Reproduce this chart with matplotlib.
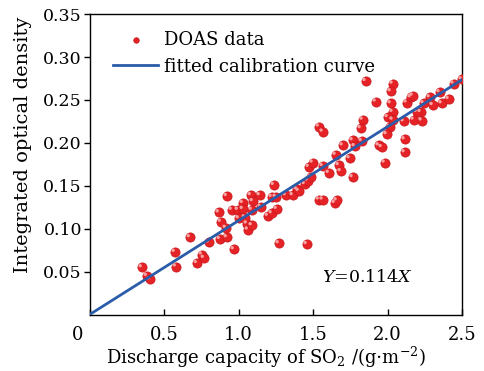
import numpy as np
import matplotlib
matplotlib.use("Agg")
import matplotlib.pyplot as plt
import matplotlib.transforms as mtransforms

plt.rcParams['font.family'] = ['DejaVu Serif']
plt.rcParams['mathtext.fontset'] = 'dejavuserif'

# SO2 discharge capacity (g/m^2) vs integrated optical density
so2 = [0.351, 0.385, 0.405, 0.572, 0.579, 0.673, 0.720, 0.753, 0.767, 0.800,
       0.867, 0.881, 0.874, 0.921, 0.921, 0.914, 0.968, 0.954, 0.995, 1.001,
       1.028, 1.028, 1.055, 1.062, 1.088, 1.082, 1.095, 1.088, 1.142, 1.149,
       1.196, 1.222, 1.256, 1.236, 1.222, 1.249, 1.269, 1.316, 1.363, 1.390,
       1.403, 1.444, 1.464, 1.484, 1.471, 1.497, 1.564, 1.605, 1.538, 1.564,
       1.698, 1.765, 1.779, 1.745, 1.651, 1.672, 1.685, 1.765, 1.538, 1.564,
       1.645, 1.658, 1.457, 1.826, 1.940, 1.960, 1.852, 2.033, 2.020, 1.920,
       2.020, 2.127, 2.154, 2.168, 2.282, 2.348, 2.442, 2.496, 2.362, 2.409,
       2.241, 2.302, 2.221, 2.195, 2.174, 2.228, 2.033, 2.000, 2.033, 2.107,
       1.832, 1.819, 2.013, 1.993, 2.114, 2.114, 1.980, 1.042]
iod = [0.055, 0.045, 0.041, 0.073, 0.056, 0.090, 0.060, 0.070, 0.066, 0.084,
       0.119, 0.108, 0.088, 0.090, 0.138, 0.101, 0.076, 0.122, 0.122, 0.112,
       0.130, 0.123, 0.106, 0.099, 0.104, 0.139, 0.132, 0.122, 0.139, 0.125,
       0.115, 0.118, 0.123, 0.151, 0.137, 0.137, 0.083, 0.139, 0.139, 0.146,
       0.144, 0.152, 0.156, 0.160, 0.172, 0.177, 0.173, 0.165, 0.219, 0.213,
       0.197, 0.203, 0.196, 0.182, 0.186, 0.174, 0.167, 0.160, 0.134, 0.134,
       0.130, 0.133, 0.082, 0.202, 0.197, 0.195, 0.272, 0.269, 0.260, 0.248,
       0.246, 0.247, 0.253, 0.255, 0.253, 0.259, 0.269, 0.274, 0.246, 0.251,
       0.246, 0.244, 0.236, 0.236, 0.227, 0.226, 0.236, 0.230, 0.227, 0.225,
       0.227, 0.217, 0.218, 0.210, 0.204, 0.189, 0.177, 0.113]

# slope of the drawn calibration line (as it appears in the plot)
fit_slope = 0.1095
fit_x = [0.0, 2.5]
fit_label = '$Y$=0.114$X$'

xticks = [0, 0.5, 1.0, 1.5, 2.0, 2.5]
xticklabels = ['0', '0.5', '1.0', '1.5', '2.0', '2.5']
yticks = [0.05, 0.10, 0.15, 0.20, 0.25, 0.30, 0.35]
yticklabels = ['0.05', '0.10', '0.15', '0.20', '0.25', '0.30', '0.35']

fig = plt.figure(figsize=(4.84, 3.71), dpi=100)
ax = fig.add_axes([0.185, 0.152, 0.77, 0.810])

# red "sphere" markers: base disc plus a small highlight
ax.scatter(so2, iod, s=44, color='#e52226', edgecolors='#c8161b', linewidths=0.5,
           zorder=3, label='DOAS data')
hl = ax.transData + mtransforms.ScaledTranslation(-1.2 / 72, 1.2 / 72, fig.dpi_scale_trans)
ax.scatter(so2, iod, s=6, color='#f8a0a0', edgecolors='none', zorder=4, transform=hl)

fit_y = [fit_slope * v for v in fit_x]
ax.plot(fit_x, fit_y, color='#2a5caa', lw=2.0, zorder=5, label='fitted calibration curve')

ax.set_xlim(0, 2.5)
ax.set_ylim(0, 0.35)
ax.set_xticks(xticks)
ax.set_xticklabels(xticklabels)
ax.set_yticks(yticks)
ax.set_yticklabels(yticklabels)
ax.tick_params(axis='x', direction='in', length=4, width=1, labelsize=13, pad=8)
ax.tick_params(axis='y', direction='out', length=4, width=1, labelsize=12.5, pad=1.5)
# shared origin label "0" sits left of the corner
zero = ax.get_xticklabels()[0]
zero.set_transform(zero.get_transform() +
                   mtransforms.ScaledTranslation(-12 / 100, 0, fig.dpi_scale_trans))
for s in ax.spines.values():
    s.set_linewidth(1.0)

ax.set_xlabel('Discharge capacity of SO$_2$ /(g$\\cdot$m$^{-2}$)', fontsize=13)
ax.xaxis.set_label_coords(0.474, -0.1)
ax.set_ylabel('Integrated optical density', fontsize=14)
ax.yaxis.set_label_coords(-0.155, 0.564)

ax.text(0.745, 0.125, fit_label, transform=ax.transAxes, fontsize=12.5,
        ha='center', va='center')

ax.legend(loc='upper left', bbox_to_anchor=(0.063, 0.945), frameon=False, fontsize=13,
          handlelength=2.5, handletextpad=0.3, labelspacing=0.5, borderaxespad=0,
          borderpad=0, markerscale=0.6)

fig.savefig('out.png', dpi=100)
